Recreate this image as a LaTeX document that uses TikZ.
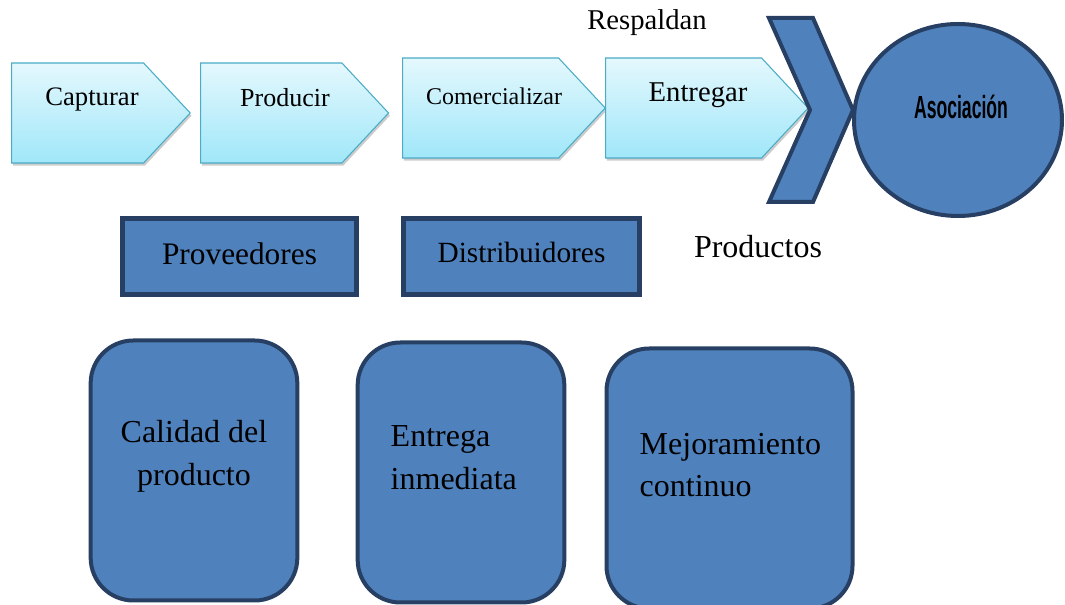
\documentclass[tikz,border=0pt]{standalone}
\usepackage{fontspec}
\setmainfont{Liberation Serif}
\newfontfamily\asocfont{Liberation Sans}
\usepackage{tikz}
\usetikzlibrary{shapes.geometric, shapes.symbols, shadows}
\definecolor{boxblue}{RGB}{79, 129, 189}
\definecolor{boxedge}{RGB}{38, 63, 98}
\definecolor{stagetop}{RGB}{228, 248, 253}
\definecolor{stagebot}{RGB}{160, 231, 249}
\definecolor{stageedge}{RGB}{75, 172, 198}

\begin{document}
\begin{tikzpicture}[x=0.75pt, y=-0.75pt,
    stage/.style={signal, signal to=east, signal pointer angle=94, anchor=west,
                  draw=stageedge, line width=0.8pt, top color=stagetop, bottom color=stagebot,
                  minimum height=75pt, inner sep=0pt,
                  drop shadow={shadow xshift=1pt, shadow yshift=-2pt, fill=black!40}},
    stagetext/.style={font=\fontsize{#1}{#1}\selectfont},
    actor/.style={rectangle, draw=boxedge, fill=boxblue, line width=3.8pt,
                  minimum height=57pt, inner sep=0pt},
    pillar/.style={rectangle, rounded corners=32pt, draw=boxedge, fill=boxblue,
                   line width=3pt, minimum width=155pt, minimum height=195pt},
    pillartext/.style={font=\fontsize{24}{32}\selectfont}
]
\useasboundingbox (0,0) rectangle (1065,605);

% cadena de valor
\node[stage, minimum width=134pt] (capturar) at (11,113) {};
\node[stage, minimum width=141pt] (producir) at (200,113) {};
\node[stage, minimum width=152pt] (comerc) at (402,108) {};
\node[stage, minimum width=152pt] (entregar) at (605,108) {};

\node[stagetext=20] at (92,100) {Capturar};
\node[stagetext=19.5] at (285,98) {Producir};
\node[stagetext=18] at (494,96) {Comercializar};
\node[stagetext=21.5] at (698,95) {Entregar};

% respaldo y asociacion
\draw[draw=boxedge, fill=boxblue, line width=3pt, line join=miter]
    (769,18) -- (813,18) -- (853,110) -- (813,202) -- (769,202) -- (810,110) -- cycle;
\node[ellipse, draw=boxedge, fill=boxblue, line width=3pt,
      minimum width=156pt, minimum height=144pt] (asoc) at (958,120) {};
\node[font=\asocfont\bfseries\fontsize{24}{24}\selectfont] at (961,107)
    {\scalebox{0.55}[1]{Asociación}};

\node[stagetext=21.5] (respaldan) at (647,23) {Respaldan};
\node[stagetext=24] (productos) at (758,247) {Productos};

% actores
\node[actor, minimum width=175.5pt] (prov) at (239.5,256.5)
    {\fontsize{23.5}{23.5}\selectfont\raisebox{5pt}{Proveedores}};
\node[actor, minimum width=177pt] (dist) at (521.5,256.5)
    {\fontsize{22}{22}\selectfont\raisebox{7pt}{Distribuidores}};

% pilares
\node[pillar] (calidad) at (194,470.5) {};
\node[pillar] (entrega) at (461,472.5) {};
\node[pillar, minimum width=184.5pt] (mejora) at (729.5,478.5) {};

\node[pillartext, align=center] at (194,456) {Calidad del\\producto};
\node[pillartext, align=left, anchor=west] at (386,458) {Entrega\\inmediata};
\node[pillartext, align=left, anchor=west] at (635,465) {Mejoramiento\\continuo};

\end{tikzpicture}
\end{document}
